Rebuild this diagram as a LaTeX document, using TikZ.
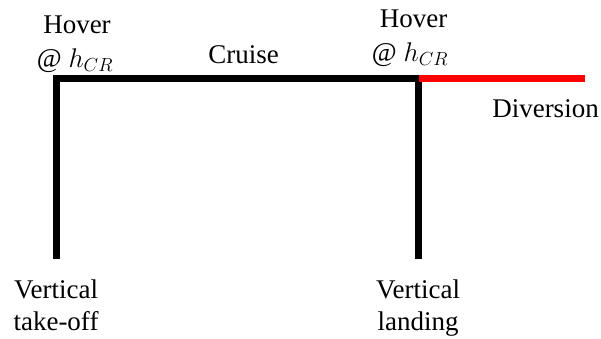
\documentclass[tikz,border=0pt]{standalone}
\usepackage{fix-cm}
\usepackage{fontspec}
\setmainfont{Liberation Serif}
\newfontfamily\labelfont{Liberation Serif}
\begin{document}
\begin{tikzpicture}[x=1pt,y=-1pt,
  lbl/.style={inner sep=0pt,align=center,anchor=base,
    font=\labelfont\fontsize{27}{32.5}\selectfont},
  route/.style={line width=7pt,line join=miter},
  divert/.style={line width=7pt,red}]
\useasboundingbox (0,0) rectangle (601,338);
% flight profile corners
\coordinate (tobot) at (56.5,259);
\coordinate (totop) at (56.5,78.5);
\coordinate (ldtop) at (418,78.5);
\coordinate (ldbot) at (418,259);
\coordinate (dvstart) at (419,78.5);
\coordinate (dvend) at (585,78.5);
\draw[route] (tobot) -- (totop) -- (ldtop) -- (ldbot);
\draw[divert] (dvstart) -- (dvend);
% labels
\node[lbl] (hov1) at (77,33) {Hover};
\node[lbl] (hov1b) at (75,67) {@ $h_{CR}$};
\node[lbl] (cruise) at (243.5,63) {Cruise};
\node[lbl] (hov2) at (413.5,27) {Hover};
\node[lbl] (hov2b) at (410,61) {@ $h_{CR}$};
\node[lbl] (div) at (545.5,117) {Diversion};
\node[lbl] (vt1) at (56,298) {Vertical};
\node[lbl] (vt2) at (56,330) {take-off};
\node[lbl] (vl1) at (418,298) {Vertical};
\node[lbl] (vl2) at (418,330) {landing};
\end{tikzpicture}
\end{document}
